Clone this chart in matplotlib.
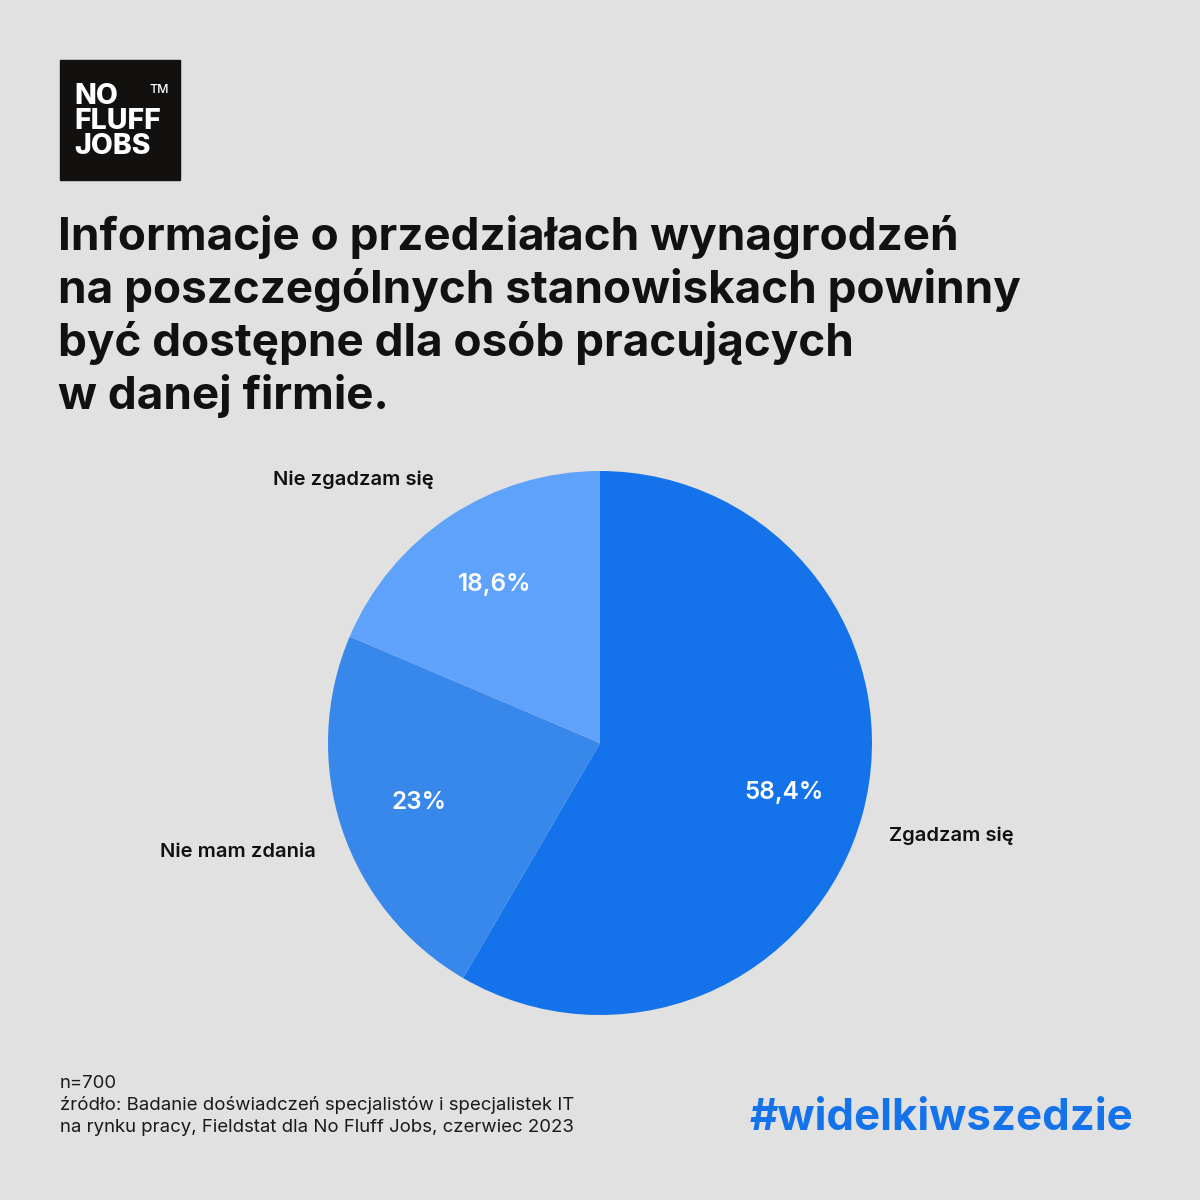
import matplotlib
matplotlib.use("Agg")
import matplotlib.pyplot as plt
from matplotlib.patches import Rectangle

# ---- data ----
categories = ["Zgadzam się", "Nie mam zdania", "Nie zgadzam się"]
values = [58.4, 23.0, 18.6]
pct_labels = ["58,4%", "23%", "18,6%"]
colors = ["#1473EA", "#3888EC", "#5EA2FC"]

title_lines = [
    "Informacje o przedziałach wynagrodzeń",
    "na poszczególnych stanowiskach powinny",
    "być dostępne dla osób pracujących",
    "w danej firmie.",
]
footnote_lines = [
    "n=700",
    "źródło: Badanie doświadczeń specjalistów i specjalistek IT",
    "na rynku pracy, Fieldstat dla No Fluff Jobs, czerwiec 2023",
]
hashtag = "#widelkiwszedzie"

FONT = ["Inter", "Open Sans", "DejaVu Sans"]
plt.rcParams["font.family"] = FONT

W = H = 1200
fig = plt.figure(figsize=(12, 12), dpi=100)
fig.patch.set_facecolor("#e1e1e1")

def fx(px):
    return px / W

def fy(py):
    return 1 - py / H

# logo
fig.patches.append(Rectangle((fx(60), fy(180)), fx(120), 120 / H,
                             transform=fig.transFigure, color="#12110f", zorder=1))
for i, word in enumerate(["NO", "FLUFF", "JOBS"]):
    fig.text(fx(74), fy(83 + i * 25), word, color="white", fontsize=20.5,
             fontweight="heavy", va="top", ha="left", zorder=2)
fig.text(fx(150), fy(84), "TM", color="white", fontsize=9,
         fontweight="medium", va="top", ha="left", zorder=2)

# title
for i, line in enumerate(title_lines):
    fig.text(fx(58), fy(215 + i * 53), line, color="#111111", fontsize=33,
             fontweight="bold", va="top", ha="left")

# pie
cx, cy, r = 600, 743, 272
ax = fig.add_axes([fx(cx - r), fy(cy + r), 2 * r / W, 2 * r / H])
ax.set_facecolor("none")
wedges, texts, autotexts = ax.pie(
    values, colors=colors, startangle=90, counterclock=False,
    labels=categories, labeldistance=1.12,
    autopct=lambda p: "", pctdistance=0.7,
    textprops=dict(fontsize=14.5, fontweight="semibold", color="#111111"),
    wedgeprops=dict(linewidth=0),
)
label_pos = {"Zgadzam się": (1.062, -0.342, "left"),
             "Nie mam zdania": (-1.044, -0.400, "right"),
             "Nie zgadzam się": (-0.612, 0.967, "right")}
for t in texts:
    x, y, ha = label_pos[t.get_text()]
    t.set_position((x, y))
    t.set_ha(ha)
    t.set_va("center")
for t, lab in zip(autotexts, pct_labels):
    t.set_text(lab)
    t.set_color("white")
    t.set_fontsize(17.5)
    t.set_fontweight("semibold")
ax.set_xlim(-1, 1)
ax.set_ylim(-1, 1)
ax.set_aspect("equal")
ax.axis("off")

# footnote
for i, line in enumerate(footnote_lines):
    fig.text(fx(60), fy(1083 + i * 22.5), line, color="#1a1a1a", fontsize=13.4,
             va="center", ha="left")

# hashtag
fig.text(fx(750), fy(1118), hashtag, color="#1473EA", fontsize=31.5,
         fontweight="bold", va="center", ha="left")

fig.savefig("out.png", dpi=100, facecolor=fig.get_facecolor())
